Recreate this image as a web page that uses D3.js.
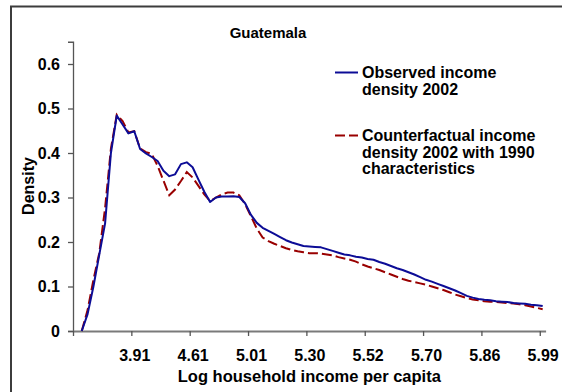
<!DOCTYPE html>
<html>
<head>
<meta charset="utf-8">
<script src="https://cdn.jsdelivr.net/npm/d3@7"></script>
<style>
  html, body { margin: 0; padding: 0; background: #fff; }
  svg { display: block; font-family: Arial, "Liberation Sans", sans-serif; font-weight: bold; }
</style>
</head>
<body>
<svg id="chart" width="562" height="392"></svg>
<script>
// Income density estimates over 81 ordered income categories
const tickLabels = ["3.91", "4.61", "5.01", "5.30", "5.52", "5.70", "5.86", "5.99"];
const tickLabelIndex = [10, 20, 30, 40, 50, 60, 70, 80];
const yTicks = [0, 0.1, 0.2, 0.3, 0.4, 0.5, 0.6];

const observed = [
  null, 0.000, 0.038, 0.100, 0.171, 0.242, 0.400, 0.484, 0.464, 0.444,
  0.449, 0.409, 0.399, 0.391, 0.382, 0.360, 0.348, 0.352, 0.375, 0.379,
  0.368, 0.340, 0.313, 0.290, 0.300, 0.302, 0.302, 0.303, 0.301, 0.287,
  0.261, 0.243, 0.232, 0.225, 0.218, 0.211, 0.204, 0.199, 0.195, 0.191,
  0.190, 0.189, 0.188, 0.184, 0.180, 0.176, 0.172, 0.170, 0.167, 0.165,
  0.162, 0.160, 0.155, 0.151, 0.146, 0.141, 0.137, 0.132, 0.127, 0.121,
  0.115, 0.111, 0.106, 0.101, 0.096, 0.091, 0.085, 0.079, 0.075, 0.072,
  0.070, 0.069, 0.067, 0.066, 0.065, 0.063, 0.062, 0.061, 0.059, 0.058,
  0.056
];

const counterfactual = [
  null, 0.000, 0.047, 0.115, 0.175, 0.276, 0.410, 0.486, 0.472, 0.446,
  0.449, 0.410, 0.402, 0.398, 0.371, 0.338, 0.305, 0.318, 0.337, 0.357,
  0.345, 0.326, 0.307, 0.292, 0.300, 0.307, 0.311, 0.311, 0.305, 0.285,
  0.258, 0.230, 0.210, 0.202, 0.196, 0.191, 0.186, 0.182, 0.179, 0.177,
  0.175, 0.175, 0.174, 0.172, 0.170, 0.166, 0.163, 0.160, 0.156, 0.150,
  0.145, 0.141, 0.137, 0.132, 0.127, 0.122, 0.117, 0.113, 0.110, 0.107,
  0.104, 0.100, 0.096, 0.092, 0.087, 0.082, 0.078, 0.074, 0.071, 0.069,
  0.067, 0.066, 0.065, 0.064, 0.063, 0.062, 0.060, 0.058, 0.055, 0.052,
  0.049
];

const legendItems = [
  { lines: ["Observed income", "density 2002"], color: "#0c0c96", dash: null },
  { lines: ["Counterfactual income", "density 2002 with 1990", "characteristics"], color: "#990000", dash: "10,4" }
];

const svg = d3.select("#chart");
const n = observed.length;
const FONT = "Arial, 'Liberation Sans', sans-serif";

// Category positions: each value sits in the middle of its slot
const x = d3.scaleLinear().domain([-0.5, n - 0.5]).range([73, 545.6]);
const y = d3.scaleLinear().domain([0, 0.65]).range([331, 41.75]);

// Outer frame
svg.append("rect")
  .attr("x", 11).attr("y", 6.5)
  .attr("width", 600).attr("height", 420)
  .attr("fill", "#fff")
  .attr("stroke", "#3c3c3c").attr("stroke-width", 2);

// Title
svg.append("text")
  .attr("x", 268).attr("y", 38)
  .attr("text-anchor", "middle")
  .style("font-size", "15px")
  .text("Guatemala");

// Y axis
const yAxis = svg.append("g")
  .attr("transform", `translate(${x(-0.5)},0)`)
  .call(d3.axisLeft(y).tickValues(yTicks).tickSize(5).tickPadding(8)
    .tickFormat(d => d === 0 ? "0" : d3.format(".1f")(d)));
yAxis.select(".domain").attr("stroke", "#555").attr("stroke-width", 1.3);
yAxis.selectAll(".tick line").attr("stroke", "#555").attr("stroke-width", 1.3);
yAxis.selectAll(".tick text").style("font-size", "16px").attr("fill", "#000")
  .style("font-family", FONT).style("font-weight", "bold");

// X axis: tick marks at every tenth slot boundary
const boundaries = d3.range(0, n, 10).map(i => i - 0.5);
const xAxis = svg.append("g")
  .attr("transform", `translate(0,${y(0)})`)
  .call(d3.axisBottom(x).tickValues(boundaries).tickSize(5).tickSizeOuter(0).tickFormat(""));
xAxis.select(".domain").attr("stroke", "#7a7a7a").attr("stroke-width", 2);
xAxis.selectAll(".tick line").attr("stroke", "#555").attr("stroke-width", 1.3);

// X category labels, centred on their slots
const xLabels = svg.append("g")
  .attr("transform", `translate(0,${y(0)})`)
  .call(d3.axisBottom(x).tickValues(tickLabelIndex).tickSize(0).tickPadding(19)
    .tickFormat((d, i) => tickLabels[i]));
xLabels.select(".domain").remove();
xLabels.selectAll(".tick text").style("font-size", "16px").attr("fill", "#000")
  .style("font-family", FONT).style("font-weight", "bold");

// Axis titles
svg.append("text")
  .attr("x", (x.range()[0] + x.range()[1]) / 2).attr("y", 382)
  .attr("text-anchor", "middle")
  .style("font-size", "16.5px")
  .text("Log household income per capita");

svg.append("text")
  .attr("transform", "translate(34,186) rotate(-90)")
  .attr("text-anchor", "middle")
  .style("font-size", "16px")
  .text("Density");

// Series lines
const line = d3.line()
  .defined(d => d != null)
  .x((d, i) => x(i))
  .y(d => y(d));

svg.append("path")
  .datum(counterfactual)
  .attr("fill", "none")
  .attr("stroke", legendItems[1].color)
  .attr("stroke-width", 2)
  .attr("stroke-dasharray", legendItems[1].dash)
  .attr("d", line);

svg.append("path")
  .datum(observed)
  .attr("fill", "none")
  .attr("stroke", legendItems[0].color)
  .attr("stroke-width", 2)
  .attr("stroke-linejoin", "round")
  .attr("d", line);

// Legend
const legendTops = [78, 141];
const lineGap = 16.5;
legendItems.forEach((item, k) => {
  const g = svg.append("g");
  const base = legendTops[k];
  g.append("line")
    .attr("x1", 335).attr("x2", 358)
    .attr("y1", base - 5.5).attr("y2", base - 5.5)
    .attr("stroke", item.color).attr("stroke-width", 2)
    .attr("stroke-dasharray", item.dash);
  item.lines.forEach((t, j) => {
    g.append("text")
      .attr("x", 362).attr("y", base + j * lineGap)
      .style("font-size", "16px")
      .text(t);
  });
});
</script>
</body>
</html>
